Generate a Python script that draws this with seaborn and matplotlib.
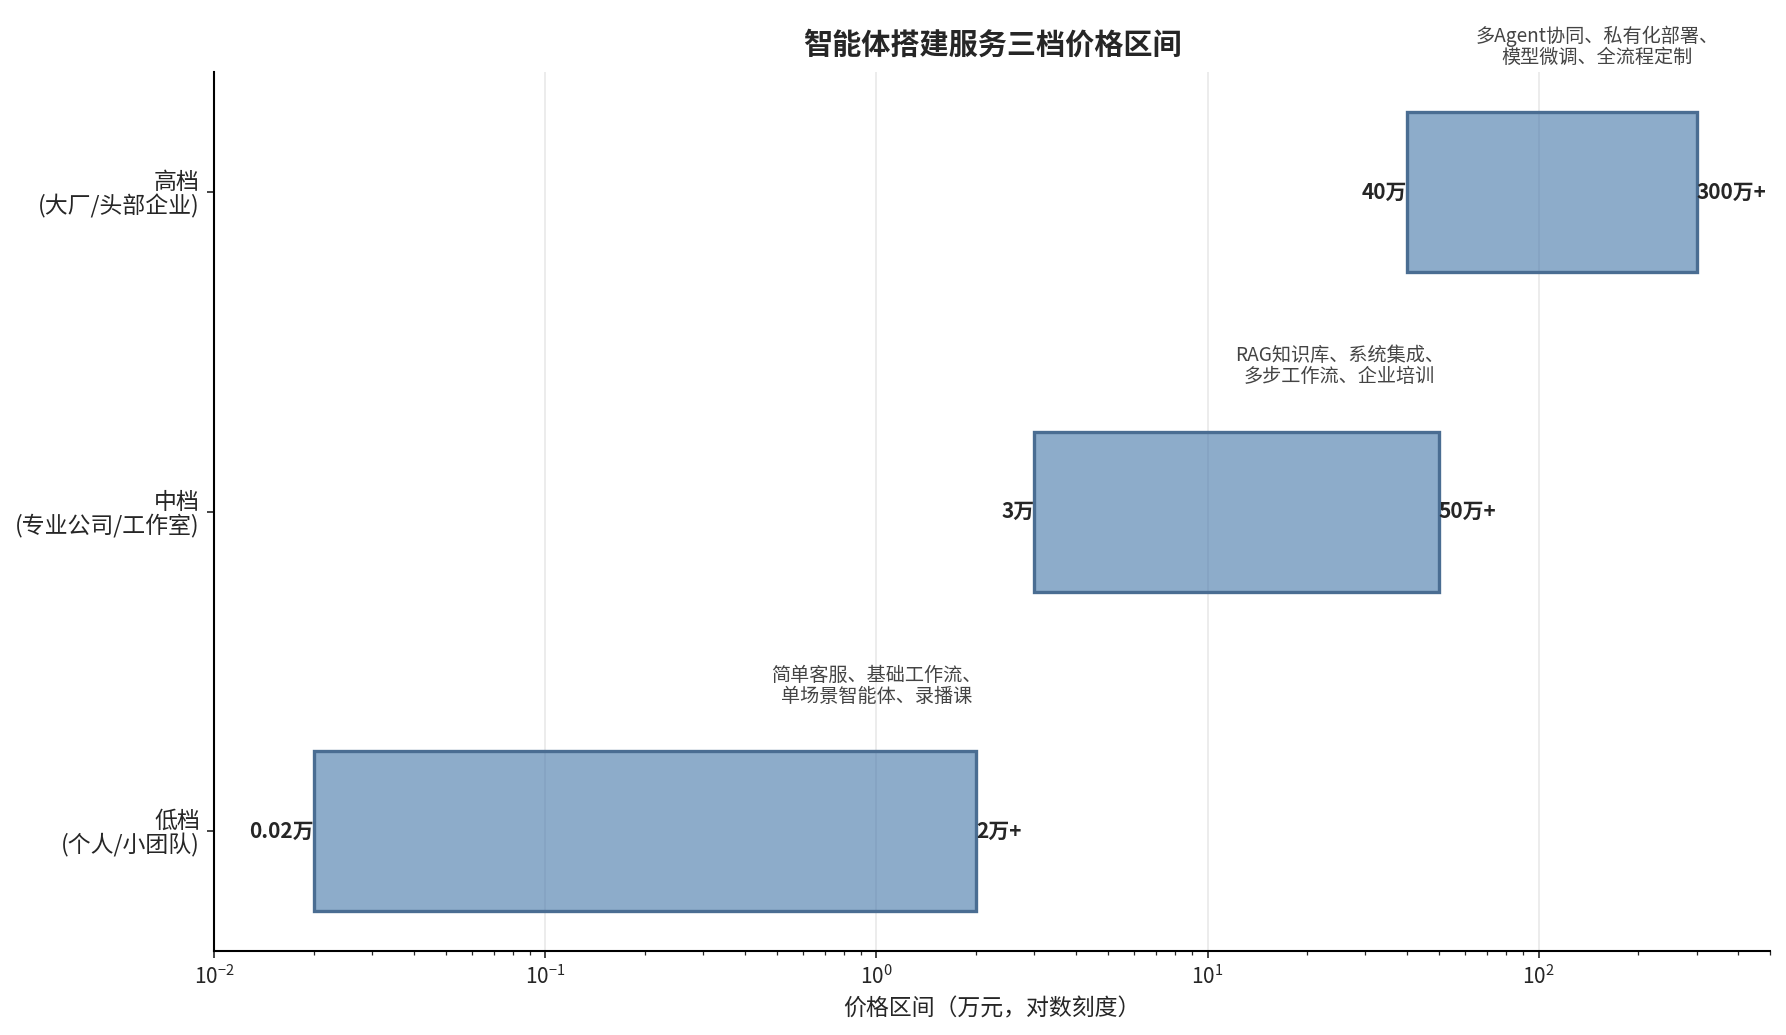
import seaborn as sns
import matplotlib.pyplot as plt

tiers = ['低档\n(个人/小团队)', '中档\n(专业公司/工作室)', '高档\n(大厂/头部企业)']
low = [0.02, 3, 40]
high = [2, 50, 300]
low_labels = ['0.02万', '3万', '40万']
high_labels = ['2万+', '50万+', '300万+']
notes = ['简单客服、基础工作流、\n单场景智能体、录播课',
         'RAG知识库、系统集成、\n多步工作流、企业培训',
         '多Agent协同、私有化部署、\n模型微调、全流程定制']

sns.set_style('ticks')
plt.rcParams['font.family'] = ['Noto Sans CJK SC', 'DejaVu Sans']
plt.rcParams['axes.unicode_minus'] = False

fig, ax = plt.subplots(figsize=(11.907, 6.9), dpi=150)
fig.subplots_adjust(left=0.12, right=0.991, top=0.930, bottom=0.081)

widths = [h - l for l, h in zip(low, high)]
ax.barh(range(len(tiers)), widths, left=low, height=0.5,
        color=(0.26, 0.46, 0.66, 0.6), edgecolor='#4a6d92', linewidth=1.6, zorder=2)

for i in range(len(tiers)):
    ax.text(low[i], i, low_labels[i], ha='right', va='center',
            fontsize=10, fontweight='bold')
    ax.text(high[i], i, high_labels[i], ha='left', va='center',
            fontsize=10, fontweight='bold')
    ax.text(high[i] * 0.5, i + 0.39, notes[i], ha='center', va='bottom',
            fontsize=9.2, color='#444444', linespacing=1.0)

ax.set_xscale('log')
ax.set_xlim(0.01, 500)
ax.set_yticks(range(len(tiers)))
ax.set_yticklabels(tiers, fontsize=11, linespacing=1.0)
ax.tick_params(axis='x', labelsize=10)
ax.set_xlabel('价格区间（万元，对数刻度）', fontsize=11)
ax.set_title('智能体搭建服务三档价格区间', fontsize=14, fontweight='bold', pad=9)
ax.grid(axis='x', color='#ebebeb', linewidth=0.9, zorder=0)
ax.set_axisbelow(True)
for s in ['left', 'bottom']:
    ax.spines[s].set_color('black')
    ax.spines[s].set_linewidth(1.0)
sns.despine(ax=ax)

fig.savefig('out.png', dpi=150)
